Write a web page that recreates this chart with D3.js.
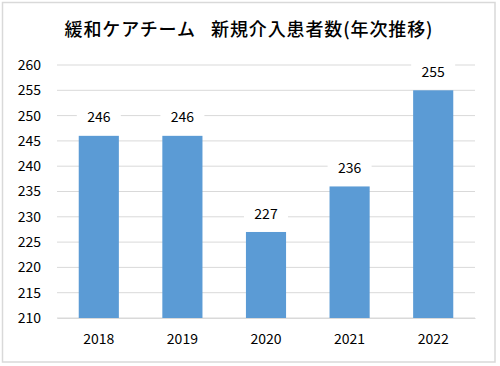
<!DOCTYPE html>
<html><head><meta charset="utf-8">
<script src="https://cdn.jsdelivr.net/npm/d3@7"></script>
<style>body{margin:0;background:#fff}svg{display:block}</style>
</head><body>
<script>
const title = "緩和ケアチーム\u2002\u2005新規介入患者数(年次推移)";
const categories = ["2018","2019","2020","2021","2022"];
const values = [246,246,227,236,255];
const yTicks = [210,215,220,225,230,235,240,245,250,255,260];

const W=500,H=366;
const svg=d3.select("body").append("svg").attr("width",W).attr("height",H);
const font="'Noto Sans CJK JP','Noto Sans',sans-serif";
svg.append("rect").attr("x",2.5).attr("y",2.5).attr("width",492.5).attr("height",359.5)
  .attr("fill","#fff").attr("stroke","#d9d9d9").attr("stroke-width",1.5);

const x=d3.scaleBand().domain(categories).range([57,475]).paddingInner(0.52).paddingOuter(0.26);
const y=d3.scaleLinear().domain([210,260]).range([318,65]);

const g=svg.append("g");
g.selectAll("line.grid").data(yTicks).join("line")
  .attr("x1",57).attr("x2",475).attr("y1",d=>y(d)).attr("y2",d=>y(d))
  .attr("stroke","#d9d9d9").attr("stroke-width",1);

const yAxis=svg.append("g").attr("transform","translate(57,0)")
  .call(d3.axisLeft(y).tickValues(yTicks).tickSize(0).tickPadding(16));
yAxis.select(".domain").remove();
yAxis.selectAll("text").attr("font-family",font).attr("font-size",14).attr("fill","#000");

g.selectAll("rect.bar").data(values).join("rect")
  .attr("x",(d,i)=>x(categories[i])).attr("width",x.bandwidth())
  .attr("y",d=>y(d)).attr("height",d=>y(210)-y(d)).attr("fill","#5b9bd5");

const xAxis=svg.append("g").attr("transform","translate(0,318)")
  .call(d3.axisBottom(x).tickSize(0).tickPadding(16));
xAxis.select(".domain").attr("stroke","#d9d9d9");
xAxis.selectAll("text").attr("font-family",font).attr("font-size",14).attr("fill","#000");

const lbl=svg.selectAll("g.lbl").data(values).join("g")
  .attr("transform",(d,i)=>`translate(${x(categories[i])+x.bandwidth()/2},${y(d)-18.5})`);
lbl.append("rect").attr("x",-22).attr("y",-11).attr("width",44).attr("height",22).attr("fill","#fff");
lbl.append("text").text(d=>d).attr("text-anchor","middle").attr("dy","0.36em")
  .attr("font-family",font).attr("font-size",14).attr("fill","#000");

svg.append("text").attr("x",64.5).attr("y",36).attr("text-anchor","start")
  .attr("textLength",368).attr("lengthAdjust","spacing")
  .attr("font-family",font).attr("font-size",18).attr("font-weight",500).attr("fill","#000").text(title);
</script>
</body></html>
